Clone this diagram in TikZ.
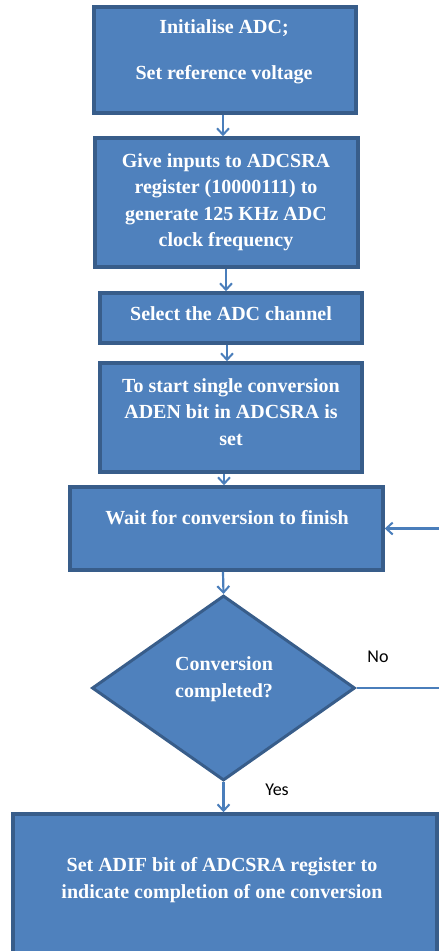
\documentclass[tikz,border=0pt]{standalone}
\usepackage{fontspec}
\setmainfont{Liberation Serif}
\newfontfamily\labelfont{Carlito}
\usetikzlibrary{arrows.meta,shapes.geometric}
\definecolor{boxfill}{RGB}{79,129,189}
\definecolor{boxline}{RGB}{56,93,138}
\definecolor{arrowcol}{RGB}{74,126,187}
\tikzset{
  stepbox/.style={draw=boxline, fill=boxfill, line width=3.5pt, rectangle, inner sep=0pt},
  txt/.style={text=white, font=\fontsize{20}{26.5}\selectfont\bfseries, align=center, inner sep=0pt},
  flow/.style={draw=arrowcol, line width=2.2pt, -{Straight Barb[length=6.5pt,width=12pt,line width=2pt]}},
  plainflow/.style={draw=arrowcol, line width=2.2pt},
  lbl/.style={font=\labelfont\fontsize{18}{20}\selectfont, text=black, inner sep=0pt}
}
\begin{document}
\begin{tikzpicture}[x=1pt,y=-1pt]
\useasboundingbox (0,0) rectangle (439,951);
\clip (0,0) rectangle (439,951);
% boxes
\node[stepbox, minimum width=262pt, minimum height=106pt] (b1) at (225,60) {};
\node[txt] (t1) at (224,52) {Initialise ADC;\\[20pt]Set reference voltage};
\node[stepbox, minimum width=263pt, minimum height=129pt] (b2) at (226.5,202.5) {};
\node[txt] (t2) at (226,202) {Give inputs to ADCSRA\\register (10000111) to\\generate 125 KHz ADC\\clock frequency};
\node[stepbox, minimum width=262pt, minimum height=50pt] (b3) at (231,318) {};
\node[txt] (t3) at (231,314) {Select the ADC channel};
\node[stepbox, minimum width=262pt, minimum height=109pt] (b4) at (231,417.5) {};
\node[txt] (t4) at (231,412) {To start single conversion\\ADEN bit in ADCSRA is\\set};
\node[stepbox, minimum width=313pt, minimum height=83pt] (b5) at (226.5,528.5) {};
\node[txt] (t5) at (227,518) {Wait for conversion to finish};
\node[diamond, draw=boxline, fill=boxfill, line width=3pt, minimum width=263pt, minimum height=185pt, inner sep=0pt] (d) at (223.5,688) {};
\node[txt] (td) at (224,679) {Conversion\\completed?};
\node[stepbox, minimum width=424pt, minimum height=160pt] (b7) at (225,894) {};
\node[txt] (t7) at (222,880) {Set ADIF bit of ADCSRA register to\\indicate completion of one conversion};
% labels
\node[lbl] (no) at (378,657) {No};
\node[lbl] (yes) at (277,790) {Yes};
% connectors
\draw[flow] (b1.south -| 223,0) -- (b2.north -| 223,0);
\draw[flow] (b2.south -| 226,0) -- (b3.north -| 226,0);
\draw[flow] (b3.south -| 227,0) -- (b4.north -| 227,0);
\draw[flow] (b4.south -| 224,0) -- (b5.north -| 224,0);
\draw[flow] (b5.south -| 223,0) -- (d.north);
\draw[flow] (d.south) -- (b7.north -| d.south);
\coordinate (loopR) at (442,688);
\draw[plainflow] (d.east) -- (loopR);
\draw[flow] (loopR) |- (b5.east);
\end{tikzpicture}
\end{document}
